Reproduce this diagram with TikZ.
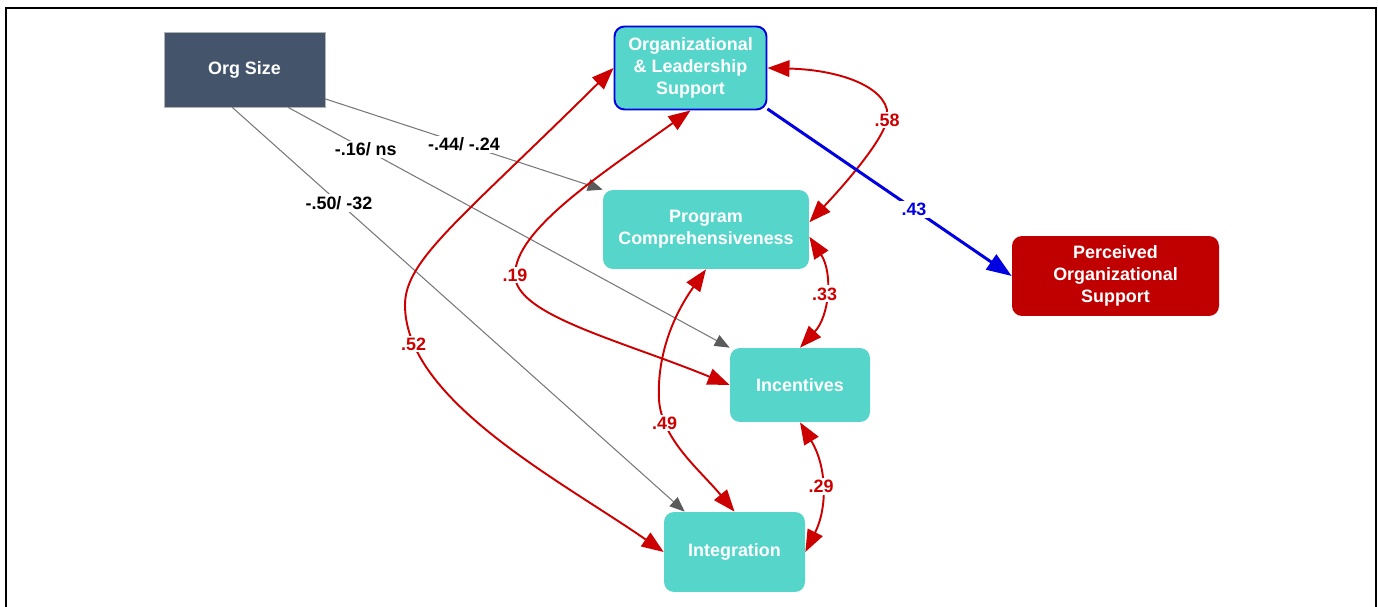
\documentclass[tikz,border=0pt]{standalone}
\usepackage{fontspec}
\setmainfont{Liberation Sans}
\usetikzlibrary{arrows.meta}
\definecolor{boxteal}{RGB}{86,214,202}
\definecolor{orgslate}{RGB}{68,84,106}
\definecolor{posred}{RGB}{192,0,0}
\definecolor{arcred}{RGB}{204,0,0}
\definecolor{olsblue}{RGB}{0,0,225}
\definecolor{linegray}{RGB}{120,120,120}
\definecolor{tipgray}{RGB}{90,90,90}
\begin{document}
\begin{tikzpicture}[x=0.02cm, y=-0.02cm,
        font=\fontsize{10.2}{12.5}\selectfont\bfseries,
        construct/.style={fill=boxteal, text=white, rounded corners=5.7pt, align=center, inner sep=0pt},
        coef/.style={fill=white, inner sep=1.2pt, text=arcred},
        redarc/.style={draw=arcred, line width=1.1pt, {Triangle[length=4.4mm,width=3.3mm]}-{Triangle[length=4.4mm,width=3.3mm]}},
        sizearc/.style={draw=linegray, line width=0.6pt, -{Triangle[length=3mm,width=2.4mm,color=tipgray]}}
    ]
        \useasboundingbox (0,0) rectangle (1378,607);
        \draw[line width=1.15pt] (6,607) -- (6,8) -- (1376,8) -- (1376,607);

        \node[fill=orgslate, draw=black!30, text=white, minimum width=3.22cm, minimum height=1.5cm]
            (orgsize) at (244.5,69.5) {Org Size};
        \node[construct, draw=olsblue, line width=1.1pt, minimum width=3.04cm, minimum height=1.66cm]
            (support) at (690.5,68) {Organizational\\\& Leadership\\Support};
        \node[construct, minimum width=4.12cm, minimum height=1.58cm]
            (program) at (706,229.5) {Program\\Comprehensiveness};
        \node[construct, minimum width=2.8cm, minimum height=1.48cm]
            (incent) at (800,385) {Incentives};
        \node[construct, minimum width=2.82cm, minimum height=1.6cm]
            (integ) at (734.5,552) {Integration};
        \node[construct, fill=posred, minimum width=4.14cm, minimum height=1.6cm]
            (perceived) at (1115.5,276) {Perceived\\Organizational\\Support};

        \draw[sizearc] (orgsize.-20) -- node[coef, text=black, pos=0.5] {-.44/ -.24} (program.north west);
        \draw[sizearc] (orgsize.-41) -- node[coef, text=black, pos=0.176] {-.16/ ns} (incent.north west);
        \draw[sizearc] (orgsize.-108) -- node[coef, text=black, pos=0.236] {-.50/ -32} (integ.141);

        \draw[redarc] (support.west) .. controls (460,220) and (405,260) .. (405,305)
            .. controls (405,400) and (560,480) .. (integ.west) node[coef, pos=0.14] {.52};
        \draw[redarc] (support.south) .. controls (600,175) and (515,230) .. (515,275) node[coef] {.19}
            .. controls (515,315) and (620,340) .. (incent.west);
        \draw[redarc] (program.south) .. controls (670,320) and (657,360) .. (659,400)
            .. controls (662,440) and (700,470) .. (integ.north) node[coef, pos=0.2] {.49};
        \draw[redarc] (support.east) .. controls (845,70) and (893,90) .. (887,120) node[coef] {.58}
            .. controls (881,146) and (830,200) .. (program.4);
        \draw[redarc] (program.-4) to[bend left=38] node[coef] {.33} (incent.north);
        \draw[redarc] (incent.south) to[bend left=29] node[coef] {.29} (integ.east);

        \draw[draw=olsblue, line width=1.7pt, -{Triangle[length=5mm,width=3.6mm]}]
            (support.-28) -- node[coef, text=olsblue, pos=0.6] {.43} (perceived.west);
    \end{tikzpicture}
\end{document}
